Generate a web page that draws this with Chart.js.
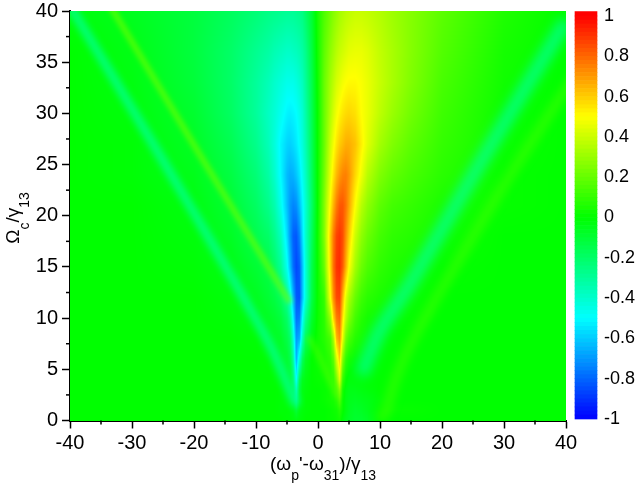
<!DOCTYPE html>
<html>
<head>
<meta charset="utf-8">
<title>Absorption map</title>
<script src="https://cdn.jsdelivr.net/npm/chart.js@4"></script>
<style>
  body { margin: 0; background: #fff; }
  #wrap { position: relative; width: 636px; height: 486px; }
  canvas { position: absolute; top: 0; }
  #mapChart { left: 0; }
  #barChart { left: 560px; }
</style>
</head>
<body>
<div id="wrap">
  <canvas id="mapChart" width="636" height="486"></canvas>
  <canvas id="barChart" width="76" height="486"></canvas>
</div>
<script>
// Grid
const detuning = [-40,-30,-20,-14,-10,-8,-7,-6,-5,-4.5,-4,-3.5,-3,-2.5,-2,-1,0,1,2,2.5,3,3.5,4,4.5,5,6,7,8,10,12,15,20,30,40];
const coupling = [0,1,2,3,4,6,8,10,12,15,18,21,24,27,30,33,36,40];
// one row per coupling value, in hundredths
const absorption = [
  [0,0,0,0,0,0,0,0,-1,-1,-2,-3,-2,-1,0,0,0,0,1,1,2,3,-2,-5,-7,-9,-9,-7,0,0,0,0,0,0],
  [0,0,0,0,0,0,0,-1,-1,-2,-4,-10,-4,-2,-1,0,0,0,1,2,3,7,1,-3,-6,-8,-7,-5,0,1,1,0,0,0],
  [0,0,0,0,0,0,0,-1,-2,-3,-8,-22,-8,-3,-1,0,0,1,3,4,8,16,2,-3,-5,-6,-5,-4,-1,0,0,0,0,0],
  [0,0,0,0,0,0,0,-1,-3,-5,-13,-35,-12,-4,-2,0,0,1,3,6,14,28,4,-2,-4,-4,-3,-2,0,0,0,0,0,0],
  [0,0,0,0,0,0,-1,-2,-4,-7,-20,-50,-18,-6,-3,0,1,2,5,9,24,44,10,1,-2,-2,-2,-1,0,0,0,0,0,0],
  [0,0,0,0,0,-1,-3,-5,-9,-14,-30,-65,-42,-18,-7,0,2,4,9,18,42,60,25,9,4,1,1,0,0,0,0,0,0,0],
  [0,0,0,0,-1,-4,-6,-8,-14,-20,-40,-70,-66,-38,-18,-4,3,7,14,32,64,72,45,22,14,7,4,2,1,0,0,0,0,0],
  [0,0,0,-1,-3,-7,-9,-12,-20,-30,-52,-78,-76,-50,-30,-9,2,8,30,58,76,80,55,36,25,13,7,4,2,1,1,0,0,0],
  [0,0,0,-2,-6,-10,-13,-18,-30,-43,-64,-82,-84,-62,-42,-14,2,10,50,72,86,87,65,44,33,20,12,8,5,3,2,0,0,0],
  [0,0,-1,-4,-10,-14,-20,-29,-47,-62,-78,-86,-82,-62,-42,-15,2,20,58,78,90,92,82,66,50,32,21,15,9,6,4,1,0,0],
  [0,0,-2,-7,-15,-20,-27,-37,-56,-70,-81,-83,-74,-56,-40,-18,3,25,60,76,87,90,85,72,60,40,28,21,13,9,7,3,0,0],
  [0,0,-3,-10,-19,-27,-34,-46,-62,-70,-74,-72,-63,-52,-41,-20,2,25,52,65,76,83,83,77,68,50,36,28,18,13,10,5,1,0],
  [0,-1,-5,-13,-23,-32,-40,-51,-63,-66,-65,-61,-55,-47,-38,-18,2,22,45,55,64,70,74,75,71,58,47,36,25,19,14,8,1,0],
  [0,-1,-7,-16,-27,-36,-43,-52,-58,-59,-57,-54,-49,-43,-35,-17,2,20,40,48,55,60,63,66,66,62,53,44,32,25,18,10,2,0],
  [0,-2,-9,-19,-30,-38,-42,-47,-52,-53,-52,-50,-46,-41,-33,-16,2,20,35,42,48,52,55,57,58,56,50,46,37,30,22,12,2,0],
  [0,-3,-11,-20,-30,-36,-40,-43,-46,-46,-46,-44,-41,-37,-30,-15,3,20,32,37,42,45,48,50,51,51,49,46,39,33,25,14,3,0],
  [0,-4,-12,-20,-28,-32,-35,-37,-39,-39,-38,-37,-35,-32,-27,-13,4,18,28,32,36,39,41,43,45,46,46,44,38,33,26,16,4,0],
  [-2,-6,-12,-18,-23,-26,-27,-28,-29,-29,-29,-28,-27,-25,-20,-10,5,15,22,26,29,32,34,36,37,39,39,38,35,31,26,18,6,0]
];

// Thin side ridges on top of the grid
const leftDipX = [-3.5,-8.2,-25.5,-41];
const leftDipY = [1.5,7.9,25.9,41.5];
const leftPeakX = [-4.5,-7.4,-19,-33,-35];
const leftPeakY = [11.5,14.4,25.9,40,42];
const rightDipX = [7,10,14.5,27,40,43];
const rightDipY = [4.5,8.8,13,26,39,42];
const rightPeakX = [10,11,12.5,15,20.8,30,38.5,43];
const rightPeakY = [0,1,4,7.5,13.7,23,31,35];
const innerPeakX = [-1.6,0,1.5,3.2];
const innerPeakY = [8.2,6.5,4.5,2.3];

// Axis ticks
const xMinorTicks = [-35,-25,-15,-5,5,15,25,35];
const yMinorTicks = [2.5,7.5,12.5,17.5,22.5,27.5,32.5,37.5];
const barLabels = [-1,-0.8,-0.6,-0.4,-0.2,0,0.2,0.4,0.6,0.8,1];

// Colour bar bands
const barEdges = [
  -1,-0.98,-0.96,-0.94,-0.92,-0.9,-0.88,-0.86,-0.84,-0.82,-0.8,-0.78,-0.76,-0.74,-0.72,-0.7,-0.68,-0.66,-0.64,-0.62,
  -0.6,-0.58,-0.56,-0.54,-0.52,-0.5,-0.48,-0.46,-0.44,-0.42,-0.4,-0.38,-0.36,-0.34,-0.32,-0.3,-0.28,-0.26,-0.24,-0.22,
  -0.2,-0.18,-0.16,-0.14,-0.12,-0.1,-0.08,-0.06,-0.04,-0.02,0,0.02,0.04,0.06,0.08,0.1,0.12,0.14,0.16,0.18,
  0.2,0.22,0.24,0.26,0.28,0.3,0.32,0.34,0.36,0.38,0.4,0.42,0.44,0.46,0.48,0.5,0.52,0.54,0.56,0.58,
  0.6,0.62,0.64,0.66,0.68,0.7,0.72,0.74,0.76,0.78,0.8,0.82,0.84,0.86,0.88,0.9,0.92,0.94,0.96,0.98,1,1.022
];

const fontFamily = "'Liberation Sans', Arial, sans-serif";

function toRgb(v) {
  v = Math.max(-1, Math.min(1, v));
  if (v < -0.5) return [0, Math.round((v + 1) * 510), 255];
  if (v < 0) return [0, 255, Math.round(-v * 510)];
  if (v < 0.5) return [Math.round(v * 510), 255, 0];
  return [255, Math.round((1 - v) * 510), 0];
}

function findCell(list, v) {
  let i = 0;
  while (i < list.length - 2 && list[i + 1] < v) i++;
  return i;
}

// Paints the grid pixel by pixel through the chart's scales
const heatPlugin = {
  id: "heat",
  beforeDatasetsDraw(chart) {
    const area = chart.chartArea;
    const left = Math.round(area.left), top = Math.round(area.top);
    const w = Math.round(area.right) - left, h = Math.round(area.bottom) - top;
    const img = chart.ctx.createImageData(w, h);
    for (let py = 0; py < h; py++) {
      const o = chart.scales.y.getValueForPixel(top + py + 0.5);
      const r = findCell(coupling, o);
      const ty = (o - coupling[r]) / (coupling[r + 1] - coupling[r]);
      for (let px = 0; px < w; px++) {
        const d = chart.scales.x.getValueForPixel(left + px + 0.5);
        const c = findCell(detuning, d);
        const tx = (d - detuning[c]) / (detuning[c + 1] - detuning[c]);
        const low = absorption[r][c] * (1 - tx) + absorption[r][c + 1] * tx;
        const high = absorption[r + 1][c] * (1 - tx) + absorption[r + 1][c + 1] * tx;
        const rgb = toRgb((low * (1 - ty) + high * ty) / 100);
        const k = (py * w + px) * 4;
        img.data[k] = rgb[0];
        img.data[k + 1] = rgb[1];
        img.data[k + 2] = rgb[2];
        img.data[k + 3] = 255;
      }
    }
    chart.ctx.putImageData(img, left, top);
  }
};

// Soft edges for the ridge lines
const blurPlugin = {
  id: "blurLines",
  beforeDatasetDraw(chart, args) {
    chart.ctx.filter = "blur(" + chart.data.datasets[args.index].blurSize + "px)";
  },
  afterDatasetDraw(chart) {
    chart.ctx.filter = "none";
  }
};

function drawRuns(ctx, runs, x, y) {
  runs.forEach(run => {
    ctx.font = (run.sub ? "14px " : "19px ") + fontFamily;
    ctx.fillText(run.text, x, run.sub ? y + 10 : y);
    x += ctx.measureText(run.text).width;
  });
}

function runsWidth(ctx, runs) {
  let width = 0;
  runs.forEach(run => {
    ctx.font = (run.sub ? "14px " : "19px ") + fontFamily;
    width += ctx.measureText(run.text).width;
  });
  return width;
}

const xTitle = [
  { text: "(ω" }, { text: "p", sub: true }, { text: "'-ω" }, { text: "31", sub: true },
  { text: ")/γ" }, { text: "13", sub: true }
];
const yTitle = [
  { text: "Ω" }, { text: "c", sub: true }, { text: "/γ" }, { text: "13", sub: true }
];

// Minor ticks and the two axis titles
const extrasPlugin = {
  id: "extras",
  afterDraw(chart) {
    const ctx = chart.ctx, area = chart.chartArea;
    ctx.save();
    ctx.strokeStyle = "#000";
    ctx.lineWidth = 1.5;
    xMinorTicks.forEach(v => {
      const px = chart.scales.x.getPixelForValue(v);
      ctx.beginPath();
      ctx.moveTo(px, area.bottom);
      ctx.lineTo(px, area.bottom + 4);
      ctx.stroke();
    });
    yMinorTicks.forEach(v => {
      const py = chart.scales.y.getPixelForValue(v);
      ctx.beginPath();
      ctx.moveTo(area.left, py);
      ctx.lineTo(area.left - 4, py);
      ctx.stroke();
    });
    ctx.fillStyle = "#000";
    ctx.textBaseline = "alphabetic";
    ctx.textAlign = "left";
    drawRuns(ctx, xTitle, 323 - runsWidth(ctx, xTitle) / 2, 470);
    ctx.translate(19, 218);
    ctx.rotate(-Math.PI / 2);
    drawRuns(ctx, yTitle, -runsWidth(ctx, yTitle) / 2, 0);
    ctx.restore();
  }
};

function ridge(xs, ys, color, width, blurSize) {
  return {
    data: xs.map((x, i) => ({ x: x, y: ys[i] })),
    borderColor: color,
    borderWidth: width,
    blurSize: blurSize,
    pointRadius: 0,
    tension: 0.3,
    fill: false
  };
}

new Chart(document.getElementById("mapChart").getContext("2d"), {
  type: "line",
  data: {
    datasets: [
      ridge(leftDipX, leftDipY, "rgba(0,255,190,0.62)", 9, 3.5),
      ridge(leftPeakX, leftPeakY, "rgba(110,255,0,0.7)", 6, 2.5),
      ridge(rightDipX, rightDipY, "rgba(0,255,190,0.6)", 14, 5.5),
      ridge(rightPeakX, rightPeakY, "rgba(90,255,0,0.42)", 10, 4),
      ridge(innerPeakX, innerPeakY, "rgba(90,255,0,0.45)", 6, 2.5)
    ]
  },
  plugins: [heatPlugin, blurPlugin, extrasPlugin],
  options: {
    responsive: false,
    animation: false,
    events: [],
    layout: { padding: { top: 11, right: 70 } },
    plugins: { legend: { display: false }, tooltip: { enabled: false } },
    scales: {
      x: {
        type: "linear",
        min: -40,
        max: 40,
        afterFit(scale) { scale.height = 65.5; scale.paddingLeft = 0; scale.paddingRight = 0; },
        border: { color: "#000", width: 2 },
        grid: { drawOnChartArea: false, tickLength: 8, tickColor: "#000", tickWidth: 1.5 },
        ticks: { stepSize: 10, maxRotation: 0, padding: 3, color: "#000", font: { family: fontFamily, size: 20 } }
      },
      y: {
        min: 0,
        max: 40,
        afterFit(scale) { scale.width = 70; scale.paddingTop = 0; scale.paddingBottom = 0; },
        border: { color: "#000", width: 2 },
        grid: { drawOnChartArea: false, tickLength: 8, tickColor: "#000", tickWidth: 1.5 },
        ticks: { stepSize: 5, padding: 4, color: "#000", font: { family: fontFamily, size: 20 } }
      }
    }
  }
});

// Colour bar
const bands = barEdges.slice(0, -1).map((edge, i) => {
  const rgb = toRgb((edge + barEdges[i + 1]) / 2);
  return {
    data: [[edge, barEdges[i + 1]]],
    backgroundColor: "rgb(" + rgb.join(",") + ")",
    barPercentage: 1,
    categoryPercentage: 1,
    grouped: false,
    clip: false
  };
});

new Chart(document.getElementById("barChart").getContext("2d"), {
  type: "bar",
  data: { labels: ["z"], datasets: bands },
  options: {
    responsive: false,
    animation: false,
    events: [],
    layout: { padding: { top: 16, bottom: 67, left: 15 } },
    plugins: { legend: { display: false }, tooltip: { enabled: false } },
    scales: {
      x: { display: false },
      y: {
        position: "right",
        min: -1,
        max: 1,
        afterBuildTicks(scale) { scale.ticks = barLabels.map(v => ({ value: v })); },
        afterFit(scale) { scale.width = 39; scale.paddingTop = 0; scale.paddingBottom = 0; },
        border: { display: false },
        grid: { display: false, drawTicks: false },
        ticks: {
          padding: 7,
          color: "#000",
          crossAlign: "near",
          callback: v => String(v),
          font: { family: fontFamily, size: 18 }
        }
      }
    }
  }
});
</script>
</body>
</html>
